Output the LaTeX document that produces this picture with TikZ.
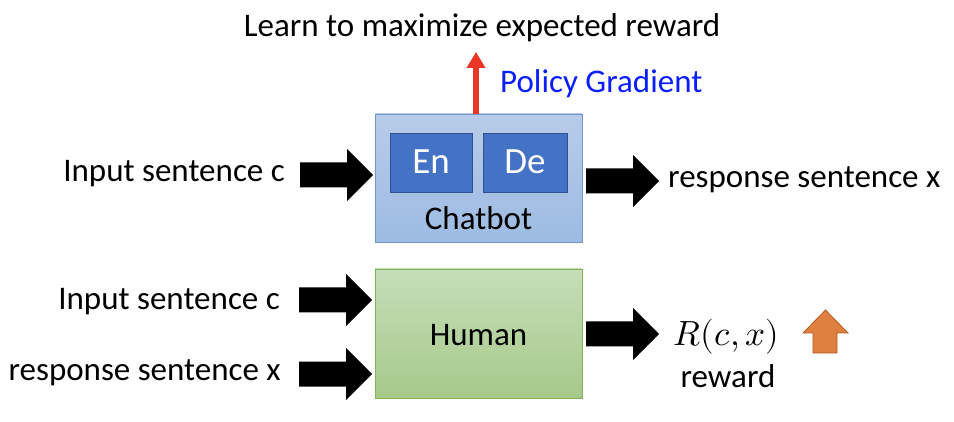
\documentclass[tikz,border=0pt]{standalone}
\usepackage{fontspec}
\usepackage{unicode-math}
\setmainfont{Carlito}
\setmathfont{Latin Modern Math}
\usetikzlibrary{arrows.meta}
\definecolor{cbtop}{RGB}{184,204,233}
\definecolor{cbbot}{RGB}{157,187,227}
\definecolor{cbline}{RGB}{114,149,205}
\definecolor{endfill}{RGB}{68,114,196}
\definecolor{endline}{RGB}{47,82,143}
\definecolor{hutop}{RGB}{197,222,184}
\definecolor{hubot}{RGB}{166,201,138}
\definecolor{huline}{RGB}{130,178,90}
\definecolor{redarr}{RGB}{234,54,39}
\definecolor{orfill}{RGB}{224,128,64}
\definecolor{orline}{RGB}{174,90,33}
\definecolor{pgblue}{RGB}{10,30,255}
\newcommand\blockarrow[2]{% tip x, centre y
  \fill (#1-73,#2-12.5) -- (#1-26,#2-12.5) -- (#1-26,#2-26) -- (#1,#2)
    -- (#1-26,#2+26) -- (#1-26,#2+12.5) -- (#1-73,#2+12.5) -- cycle;}
\tikzset{
  txt/.style={font=\fontsize{33}{38}\selectfont, inner sep=0pt},
  chatbox/.style={draw=cbline, line width=0.8pt, top color=cbtop, bottom color=cbbot,
    minimum width=207pt, minimum height=128pt, inner sep=0pt},
  subbox/.style={draw=endline, line width=0.8pt, fill=endfill,
    minimum height=59pt, inner sep=0pt},
  humanbox/.style={draw=huline, line width=0.8pt, top color=hutop, bottom color=hubot,
    minimum width=207pt, minimum height=129pt, inner sep=0pt},
}
\begin{document}
\begin{tikzpicture}[x=1pt,y=-1pt]
\useasboundingbox (0,0) rectangle (954,422);
% boxes
\node[chatbox] (chat) at (478.5,178) {};
\node[subbox, minimum width=82pt] (en) at (431,162.5) {};
\node[subbox, minimum width=84pt] (de) at (525,162.5) {};
\node[anchor=base, inner sep=0pt, text=white, font=\fontsize{37}{42}\selectfont] (entxt) at (431,174) {En};
\node[anchor=base, inner sep=0pt, text=white, font=\fontsize{37}{42}\selectfont] (detxt) at (525,174) {De};
\node[txt, anchor=base] (chatlbl) at (478.5,230) {Chatbot};
\node[humanbox] (human) at (478.5,333.5) {};
\node[txt, anchor=base] (humanlbl) at (478.5,345) {Human};
% top
\node[txt, anchor=base] (learn) at (482,37) {Learn to maximize expected reward};
\coordinate (redtop) at (476,52);
\draw[redarr, line width=6pt, -{Triangle[width=18pt,length=16pt]}] (chat.north -| redtop) -- (redtop);
\node[txt, anchor=base west, text=pgblue] (pg) at (500,93) {Policy Gradient};
% left labels
\node[txt, anchor=base east] (in1) at (285,182) {Input sentence c};
\node[txt, anchor=base east] (in2) at (280,309) {Input sentence c};
\node[txt, anchor=base east] (in3) at (281,381) {response sentence x};
% right labels
\node[txt, anchor=base west] (out1) at (668,188) {response sentence x};
\node[anchor=base west, inner sep=0pt, font=\fontsize{35}{40}\selectfont] (rcx) at (673,345) {$R(c,x)$};
\node[txt, anchor=base] (rew) at (728,387) {reward};
% block arrows
\blockarrow{373}{175}
\blockarrow{372}{300}
\blockarrow{372}{374}
\blockarrow{659}{181}
\blockarrow{659}{334}
% orange up arrow
\filldraw[fill=orfill, draw=orline, line width=0.8pt]
  (813,353) -- (837,353) -- (837,333) -- (848,333) -- (825.5,310) -- (803,333) -- (813,333) -- cycle;
\end{tikzpicture}
\end{document}
